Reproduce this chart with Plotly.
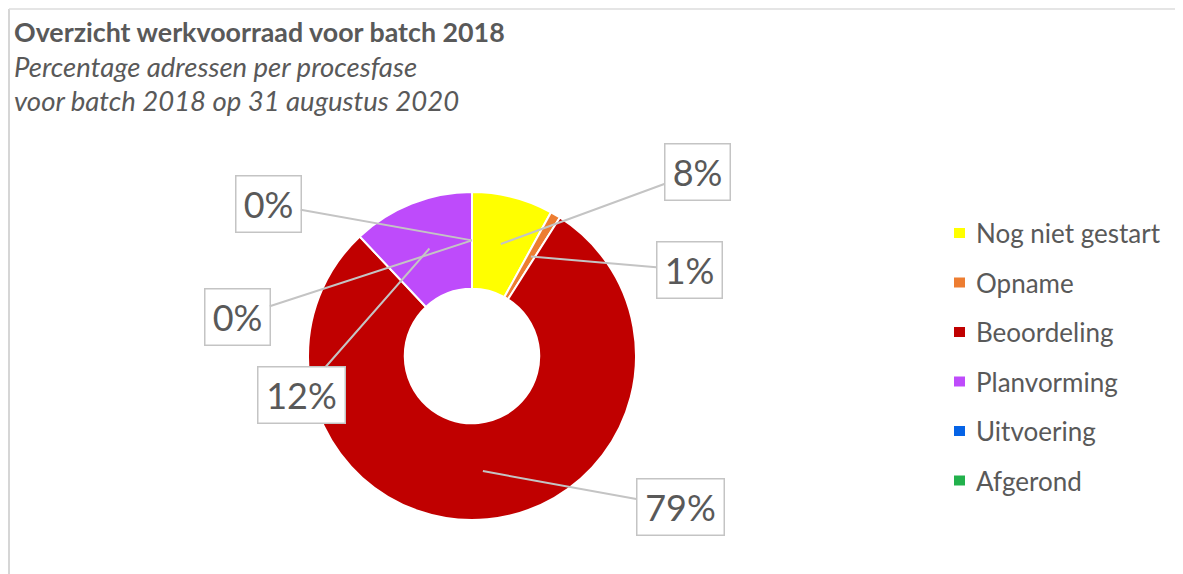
import math
import plotly.graph_objects as go

# data
categories = ["Nog niet gestart", "Opname", "Beoordeling", "Planvorming", "Uitvoering", "Afgerond"]
percentages = [8, 1, 79, 12, 0, 0]
colors = ["#FFFF00", "#ED7D31", "#C00000", "#BE4BFB", "#0563E6", "#22B14C"]

# the page puts the plot 8px in from the top-left corner
OFF = 8
W, H = 1183 - OFF, 574 - OFF
GREY = "#595959"
LINE = "#c4c4c4"
FONT = "Lato"


def px2paper(x, y):
    return (x - OFF) / W, 1 - (y - OFF) / H


# donut geometry (screen pixels)
cx, cy, R = 472, 356, 164
hole = 0.41

x0, y0 = px2paper(cx - R, cy + R)
x1, y1 = px2paper(cx + R, cy - R)
fig = go.Figure(go.Pie(
    labels=categories,
    values=percentages,
    marker=dict(colors=colors, line=dict(color="white", width=2)),
    hole=hole,
    sort=False,
    direction="clockwise",
    rotation=0,
    textinfo="none",
    hoverinfo="label+percent",
    showlegend=False,
    domain=dict(x=[x0, x1], y=[y0, y1]),
))

# label boxes: centre position in screen pixels per slice
label_pos = [(697, 172), (689, 270), (680, 507), (301, 395), (268, 204), (237, 317)]

annotations = []
total = sum(percentages)
cum = 0
r_mid = R * (1 + hole) / 2
for i, (cat, val) in enumerate(zip(categories, percentages)):
    mid = (cum + val / 2) / total * 2 * math.pi
    cum += val
    px = cx + r_mid * math.sin(mid)
    py = cy - r_mid * math.cos(mid)
    bx, by = label_pos[i]
    txt = f"{val}%"
    ax_, ay_ = px2paper(px, py)
    annotations.append(dict(
        x=ax_, y=ay_, xref="paper", yref="paper",
        ax=bx - px, ay=by - py,
        text=txt, showarrow=True, arrowhead=0, arrowwidth=2, arrowcolor=LINE,
        font=dict(family=FONT, size=36, color=GREY),
        bgcolor="white", bordercolor=LINE, borderwidth=1.5,
        width=62 if len(txt) == 2 else 84, height=53, borderpad=1,
    ))

# title and subtitle
for text, y, size in [("<b>Overzicht werkvoorraad voor batch 2018</b>", 32, 26.8),
                      ("<i>Percentage adressen per procesfase</i>", 67, 27.5),
                      ("<i>voor batch 2018 op 31 augustus 2020</i>", 100, 27.5)]:
    tx, ty = px2paper(12, y)
    annotations.append(dict(x=tx, y=ty, xref="paper", yref="paper",
                            xanchor="left", yanchor="middle", showarrow=False,
                            text=text, font=dict(family=FONT, size=size, color=GREY)))

# frame
fx0, fy0 = px2paper(9, 9)
shapes = [dict(type="line", xref="paper", yref="paper", x0=fx0, x1=fx0, y0=-0.05, y1=fy0,
               line=dict(color="#c8c8c8", width=1.5)),
          dict(type="line", xref="paper", yref="paper", x0=fx0, x1=1.05, y0=fy0, y1=fy0,
               line=dict(color="#dcdcdc", width=1.5))]

# legend drawn manually
for i, (cat, col) in enumerate(zip(categories, colors)):
    ly = 233 + i * 49.5
    mx0, my0 = px2paper(954, ly + 5)
    mx1, my1 = px2paper(965, ly - 5)
    shapes.append(dict(type="rect", xref="paper", yref="paper",
                       x0=mx0, x1=mx1, y0=my0, y1=my1,
                       line=dict(width=0), fillcolor=col))
    tx, ty = px2paper(974, ly)
    annotations.append(dict(x=tx, y=ty, xref="paper", yref="paper",
                            xanchor="left", yanchor="middle", showarrow=False,
                            text=cat, font=dict(family=FONT, size=26, color=GREY)))

fig.update_layout(
    width=W, height=H,
    margin=dict(l=0, r=0, t=0, b=0),
    paper_bgcolor="white",
    plot_bgcolor="white",
    annotations=annotations,
    shapes=shapes,
)

fig.write_html("out.html")
